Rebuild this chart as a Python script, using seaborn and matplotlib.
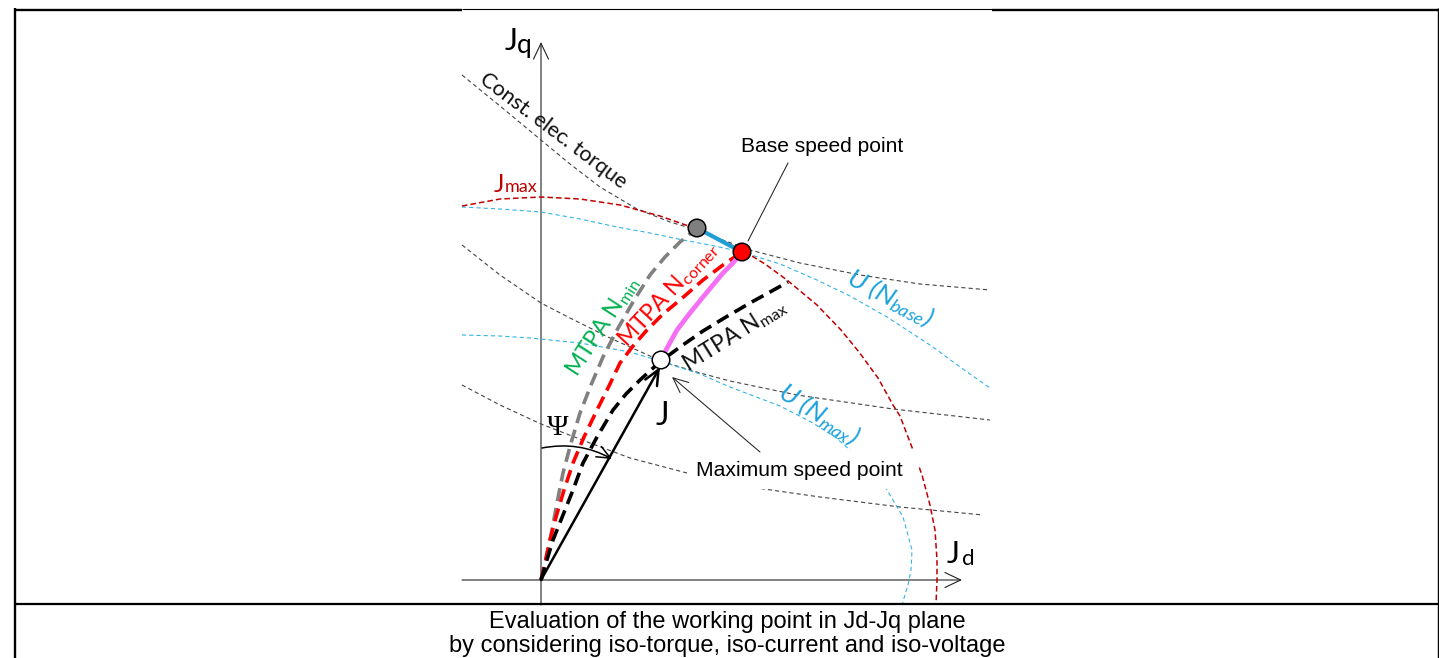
import matplotlib
matplotlib.use("Agg")
import matplotlib.pyplot as plt
import seaborn as sns
import pandas as pd
from matplotlib.patches import Rectangle

# ---------------- data: Jd / Jq coordinates (diagram units) ----------------
torque_a_jd = [-79, -41, 0, 29, 59, 96, 129, 156, 179, 209, 259, 319, 379, 449]
torque_a_jq = [505, 474, 440, 416, 393, 371, 358, 350, 341, 330, 317, 305, 296, 290]
torque_b_jd = [-79, -41, 0, 29, 49, 69, 89, 109, 129, 159, 189, 256, 352, 449]
torque_b_jq = [335, 305, 277, 262, 252, 242, 233, 224, 216, 207, 199, 185, 171, 160]
torque_c_jd = [-79, -41, 0, 49, 89, 146, 216, 279, 359, 442]
torque_c_jq = [195, 175, 156, 137, 122, 107, 92, 83, 73, 65]

jmax_jd = [-79, -41, 0, 39, 79, 119, 156, 201, 224, 246, 276, 300, 318, 337, 352, 359, 372, 381, 389, 394, 396, 396, 395]
jmax_jq = [374, 381, 383, 381, 375, 364, 351, 330, 316, 300, 275, 250, 228, 202, 175, 164, 130, 105, 75, 50, 20, 0, -24]

ubase_jd = [-79, -41, 0, 39, 76, 109, 142, 169, 201, 239, 276, 309, 346, 392, 419, 449]
ubase_jq = [373, 371, 368, 361, 353, 347, 340, 335, 328, 316, 300, 284, 263, 233, 213, 192]

umax_jd = [-79, -41, -11, 39, 89, 122, 159, 189, 239, 272, 294, 309, 329, 346, 362, 371, 370, 367, 361]
umax_jq = [245, 244, 242, 237, 228, 218, 206, 193, 174, 157, 143, 130, 112, 90, 63, 30, 10, -5, -25]

mtpa_min_jd = [0, 4, 8, 11, 16, 22, 30, 39, 50, 62, 76, 92, 109, 124, 139, 156]
mtpa_min_jq = [0, 17, 35, 50, 77, 107, 137, 167, 195, 223, 250, 278, 305, 323, 338, 352]
mtpa_corner_jd = [0, 4, 9, 15, 23, 32, 43, 56, 68, 79, 92, 106, 122, 139, 162, 182, 201]
mtpa_corner_jq = [0, 17, 40, 63, 90, 117, 143, 170, 194, 217, 234, 250, 266, 280, 300, 315, 328]
mtpa_max_jd = [0, 5, 12, 22, 32, 42, 56, 72, 85, 99, 110, 120, 139, 162, 185, 209, 229, 247]
mtpa_max_jq = [0, 17, 40, 65, 90, 117, 143, 170, 186, 200, 210, 219, 233, 249, 263, 277, 288, 298]

fw_jd = [120, 126, 136, 149, 162, 172, 182, 192, 201]
fw_jq = [220, 232, 250, 267, 283, 295, 307, 317, 328]

ulim_jd = [156, 201]
ulim_jq = [352, 328]

point_names = ["min", "base", "max"]
point_jd = [156, 201, 120]
point_jq = [352, 328, 220]

j_vector = (119, 213)
psi_start = (1, 132)
psi_end = (71, 121)

caption_lines = ["Evaluation of the working point in Jd-Jq plane",
                 "by considering iso-torque, iso-current and iso-voltage"]

# ---------------- style ----------------
sns.set_theme(style="white")
plt.rcParams["font.family"] = ["Lato", "DejaVu Sans"]
plt.rcParams["text.color"] = "black"
plt.rcParams["mathtext.fontset"] = "custom"
plt.rcParams["mathtext.rm"] = "Lato"
plt.rcParams["mathtext.it"] = "Lato:italic"
plt.rcParams["lines.scale_dashes"] = False

OX, OY = 541, 580  # picture position of the diagram origin


def P(x, y):
    return x - OX, OY - y


fig = plt.figure(figsize=(14.39, 6.58), dpi=100)
fig.patch.set_facecolor("white")
ax = fig.add_axes([0, 0, 1, 1])
ax.set_xlim(-OX, 1439 - OX)
ax.set_ylim(OY - 658, OY)
ax.axis("off")

thin_gray = dict(color="#444444", linewidth=0.8, linestyle=(0, (3.0, 2.2)))
thin_blue = dict(color="#35b2e8", linewidth=0.8, linestyle=(0, (3.0, 2.2)))


def curve(x, y, z=2, **kw):
    df = pd.DataFrame({"Jd": x, "Jq": y})
    sns.lineplot(data=df, x="Jd", y="Jq", sort=False, estimator=None, ax=ax,
                 zorder=z, dash_capstyle="butt", **kw)


curve(torque_a_jd, torque_a_jq, **thin_gray)
curve(torque_b_jd, torque_b_jq, **thin_gray)
curve(torque_c_jd, torque_c_jq, **thin_gray)
curve(ubase_jd, ubase_jq, **thin_blue)
curve(umax_jd, umax_jq, **thin_blue)
curve(jmax_jd, jmax_jq, color="#c00000", linewidth=1.1, linestyle=(0, (4.0, 2.2)))

# white text box of "Maximum speed point"
bx0, by0 = P(687, 489)
ax.add_patch(Rectangle((bx0, by0), 232, 39, facecolor="white", edgecolor="none", zorder=3))

thick_dash = (0, (9.5, 5.0))
curve(mtpa_min_jd, mtpa_min_jq, z=4, color="#808080", linewidth=2.6, linestyle=thick_dash)
curve(mtpa_corner_jd, mtpa_corner_jq, z=4, color="#ff0000", linewidth=2.6, linestyle=thick_dash)
curve(mtpa_max_jd, mtpa_max_jq, z=4, color="#000000", linewidth=2.6, linestyle=thick_dash)
curve(fw_jd, fw_jq, z=5, color="#f46ff4", linewidth=3.4, linestyle="-", solid_capstyle="butt")
curve(ulim_jd, ulim_jq, z=5, color="#1e9fd6", linewidth=3.0, linestyle="-", solid_capstyle="butt")

# axes of the diagram
ax.annotate("", xy=P(962, 580), xytext=P(462, 580),
            arrowprops=dict(arrowstyle="->,head_length=0.95,head_width=0.45", lw=0.8,
                            color="#222222", shrinkA=0, shrinkB=0), zorder=1)
ax.annotate("", xy=P(541, 42), xytext=P(541, 605),
            arrowprops=dict(arrowstyle="->,head_length=0.95,head_width=0.45", lw=0.8,
                            color="#222222", shrinkA=0, shrinkB=0), zorder=1)

# J vector
ax.annotate("", xy=j_vector, xytext=(0, 0),
            arrowprops=dict(arrowstyle="->,head_length=0.9,head_width=0.4", lw=1.8,
                            color="black", shrinkA=0, shrinkB=0), zorder=5)
# Psi arc
ax.annotate("", xy=psi_end, xytext=psi_start,
            arrowprops=dict(arrowstyle="->,head_length=0.8,head_width=0.35", lw=1.1,
                            color="black", shrinkA=0, shrinkB=0,
                            connectionstyle="arc3,rad=-0.18"), zorder=5)

# operating points
pts = pd.DataFrame({"Jd": point_jd, "Jq": point_jq, "name": point_names})
sns.scatterplot(data=pts, x="Jd", y="Jq", hue="name",
                palette={"min": "#7f7f7f", "base": "#ff0000", "max": "#ffffff"},
                s=160, edgecolor="black", linewidth=1.1, legend=False, ax=ax, zorder=7)

# leaders
ax.annotate("", xy=P(748, 241), xytext=P(788, 163),
            arrowprops=dict(arrowstyle="-", lw=0.75, color="#222222", shrinkA=0, shrinkB=0), zorder=6)
ax.annotate("", xy=P(672, 377), xytext=P(760, 452),
            arrowprops=dict(arrowstyle="->,head_length=0.9,head_width=0.4", lw=0.75,
                            color="#222222", shrinkA=0, shrinkB=0), zorder=6)

# ---------------- texts ----------------
arial = ["Liberation Sans", "DejaVu Sans"]
ax.text(*P(822, 146), "Base speed point", family=arial, fontsize=15.1, ha="center", va="center", zorder=8)
ax.text(*P(799, 471), "Maximum speed point", family=arial, fontsize=15.2, ha="center", va="center", zorder=8)

ax.text(*P(553, 131), "Const. elec. torque", fontsize=15.5, rotation=-37,
        rotation_mode="anchor", ha="center", va="center", color="#111111", zorder=8)

ax.text(*P(499, 185), "J", fontsize=18, color="#c00000", ha="center", va="center", zorder=8)
ax.text(*P(521, 187), "max", fontsize=13, color="#c00000", ha="center", va="center", zorder=8)

ax.text(*P(511, 41), "J", fontsize=22, ha="center", va="center", zorder=8)
ax.text(*P(524, 46), "q", fontsize=19, ha="center", va="center", zorder=8)
ax.text(*P(953, 554), "J", fontsize=22, ha="center", va="center", zorder=8)
ax.text(*P(968, 559), "d", fontsize=16, ha="center", va="center", zorder=8)
ax.text(*P(662, 416), "J", fontsize=23, ha="center", va="center", zorder=8)
ax.text(*P(558, 428), "\u03a8", family=["Liberation Serif", "DejaVu Serif"], fontsize=21,
        ha="center", va="center", zorder=8)

ax.text(*P(603, 326), r"MTPA N$_{\mathregular{min}}$", fontsize=16.5, color="#00b050",
        rotation=57, rotation_mode="anchor", ha="center", va="center", zorder=8)
ax.text(*P(668, 294), r"MTPA N$_{\mathregular{corner}}$", fontsize=16.5, color="#ff0000",
        rotation=47, rotation_mode="anchor", ha="center", va="center", zorder=8)
ax.text(*P(735, 335), r"MTPA N$_{\mathregular{max}}$", fontsize=16.5, color="#111111",
        rotation=32, rotation_mode="anchor", ha="center", va="center", zorder=8)
ax.text(*P(890, 298), r"U (N$_{\mathregular{base}}$)", fontsize=19, color="#1aa1dc",
        style="italic", rotation=-28, rotation_mode="anchor", ha="center", va="center", zorder=8)
ax.text(*P(819, 414), r"U (N$_{\mathregular{max}}$)", fontsize=19, color="#1aa1dc",
        style="italic", rotation=-33, rotation_mode="anchor", ha="center", va="center", zorder=8)

# caption
ax.text(*P(727, 622), caption_lines[0], family=arial, fontsize=17, ha="center", va="center")
ax.text(*P(727, 646), caption_lines[1], family=arial, fontsize=17, ha="center", va="center")


# ---------------- table frame ----------------
def seg(x0, y0, x1, y1, lw):
    a, b = P(x0, y0)
    c, d = P(x1, y1)
    ax.plot([a, c], [b, d], color="black", lw=lw, solid_capstyle="butt", clip_on=False, zorder=10)


seg(14, 9.5, 462, 9.5, 1.7)
seg(462, 8.5, 992, 8.5, 0.8)
seg(992, 9.5, 1439, 9.5, 1.7)
seg(15, 8.3, 15, 658, 1.7)
seg(1438.4, 8.3, 1438.4, 658, 1.0)
seg(15, 604.2, 1439, 604.2, 1.6)

fig.savefig("out.png", dpi=100, facecolor="white")
